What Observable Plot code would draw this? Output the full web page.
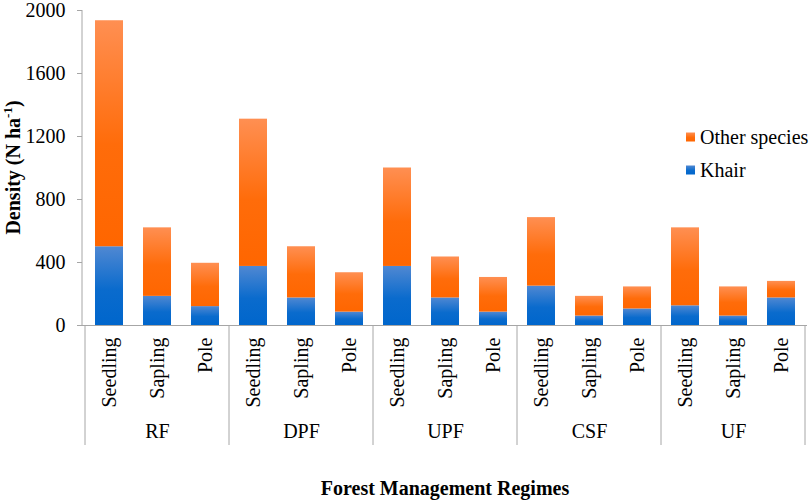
<!DOCTYPE html>
<html>
<head>
<meta charset="utf-8">
<script src="https://cdn.jsdelivr.net/npm/d3@7"></script>
<script src="https://cdn.jsdelivr.net/npm/@observablehq/plot@0.6"></script>
<style>
  html, body { margin: 0; padding: 0; background: #fff; overflow: hidden; }
  #chart { width: 809px; height: 500px; }
</style>
</head>
<body>
<div id="chart"></div>
<script>
// ---- data ----
const regimes = ["RF", "DPF", "UPF", "CSF", "UF"];
const stages = ["Seedling", "Sapling", "Pole"];
const seriesNames = ["Khair", "Other species"];
// values per regime, in stage order (Seedling, Sapling, Pole)
const khair = [500, 185, 120, 375, 175, 85, 375, 175, 85, 250, 60, 105, 125, 60, 175];
const otherSpecies = [1435, 435, 275, 935, 325, 250, 625, 260, 220, 435, 125, 140, 495, 185, 105];
const yTicks = [0, 400, 800, 1200, 1600, 2000];
const yLabel = "Density (N ha";
const yLabelSup = "-1";
const xTitle = "Forest Management Regimes";

// ---- build table ----
const keys = [];
regimes.forEach(r => stages.forEach(s => keys.push(r + "|" + s)));
const rows = [];
keys.forEach((k, i) => {
  rows.push({key: k, series: "Khair", value: khair[i]});
  rows.push({key: k, series: "Other species", value: otherSpecies[i]});
});

const FONT = "Liberation Serif, Times New Roman, serif";
const AXIS_GREY = "#a6a6a6";

function defs() {
  const d = d3.create("svg:defs");
  const mk = (id, stops) => {
    const g = d.append("linearGradient").attr("id", id)
      .attr("x1", 0).attr("y1", 0).attr("x2", 0).attr("y2", 1);
    stops.forEach(([o, c]) => g.append("stop").attr("offset", o).attr("stop-color", c));
  };
  mk("gOrange", [["0%", "#ff8f52"], ["55%", "#ff6c0a"], ["100%", "#ff6600"]]);
  mk("gBlue", [["0%", "#5088d2"], ["55%", "#0a6bcd"], ["100%", "#0066cc"]]);
  return d.node();
}

function separators(index, scales, values, dim) {
  const x = scales.x;
  const bw = typeof x.bandwidth === "function" ? x.bandwidth() : x.bandwidth;
  const step = x(keys[1]) - x(keys[0]);
  const gap = (step - bw) / 2;
  const y0 = dim.height - dim.marginBottom;
  const g = d3.create("svg:g").attr("stroke", AXIS_GREY).attr("stroke-width", 1);
  const edges = regimes.map(r => x(r + "|" + stages[0]) - gap);
  edges.push(x(regimes[regimes.length - 1] + "|" + stages[stages.length - 1]) + bw + gap);
  edges.forEach(e => {
    g.append("line").attr("x1", e).attr("x2", e).attr("y1", y0).attr("y2", y0 + 120);
  });
  // y axis line
  g.append("line").attr("x1", dim.marginLeft).attr("x2", dim.marginLeft)
    .attr("y1", scales.y(yTicks[yTicks.length - 1])).attr("y2", scales.y(0));
  return g.node();
}

function yAxisLabel(index, scales, values, dim) {
  const cy = (dim.marginTop + dim.height - dim.marginBottom) / 2;
  const t = d3.create("svg:text")
    .attr("transform", `translate(20,${cy}) rotate(-90)`)
    .attr("text-anchor", "middle")
    .attr("font-family", FONT).attr("font-size", 20).attr("font-weight", "bold")
    .attr("fill", "#000");
  t.append("tspan").text(yLabel);
  t.append("tspan").attr("dy", -8).attr("font-size", 13).text(yLabelSup);
  t.append("tspan").attr("dy", 8).text(")");
  return t.node();
}

function legend(index, scales, values, dim) {
  const g = d3.create("svg:g").attr("font-family", FONT).attr("font-size", 20)
    .attr("fill", "#000").attr("text-anchor", "start");
  const items = [["Other species", "url(#gOrange)", 137], ["Khair", "url(#gBlue)", 170]];
  items.forEach(([label, fill, cy]) => {
    g.append("rect").attr("x", 686).attr("y", cy - 4.5).attr("width", 9).attr("height", 9).attr("fill", fill);
    g.append("text").attr("x", 700).attr("y", cy).attr("dy", "0.35em").attr("text-anchor", "start").text(label);
  });
  return g.node();
}

const plot = Plot.plot({
  width: 809,
  height: 500,
  marginLeft: 82,
  marginRight: 2,
  marginTop: 10,
  marginBottom: 175,
  style: {fontFamily: FONT, fontSize: "20px", color: "#000", background: "#fff", overflow: "hidden"},
  x: {type: "band", domain: keys, paddingInner: 0.42, paddingOuter: 0.21, label: null},
  y: {domain: [0, 2000], label: null},
  color: {domain: seriesNames, range: ["url(#gBlue)", "url(#gOrange)"]},
  marks: [
    defs,
    Plot.barY(rows, {x: "key", y: "value", fill: "series", order: seriesNames}),
    Plot.ruleY([0], {stroke: AXIS_GREY}),
    separators,
    Plot.axisY({ticks: yTicks, tickSize: 5, tickPadding: 12, stroke: AXIS_GREY, fill: "#000", label: null,
      tickFormat: d => String(d), fontSize: 20, fontFamily: FONT, fontVariant: "normal"}),
    Plot.axisX({tickRotate: -90, tickSize: 0, tickPadding: 12, tickFormat: d => d.split("|")[1], fill: "#000",
      label: null, fontSize: 20, fontFamily: FONT}),
    Plot.text(regimes, {x: d => d + "|" + stages[1], frameAnchor: "bottom", dy: 112, fontSize: 20,
      fontFamily: FONT, fill: "#000"}),
    Plot.text([xTitle], {frameAnchor: "bottom", dy: 169, fontSize: 20, fontWeight: "bold",
      fontFamily: FONT, fill: "#000"}),
    yAxisLabel,
    legend
  ]
});
document.getElementById("chart").appendChild(plot);
</script>
</body>
</html>
